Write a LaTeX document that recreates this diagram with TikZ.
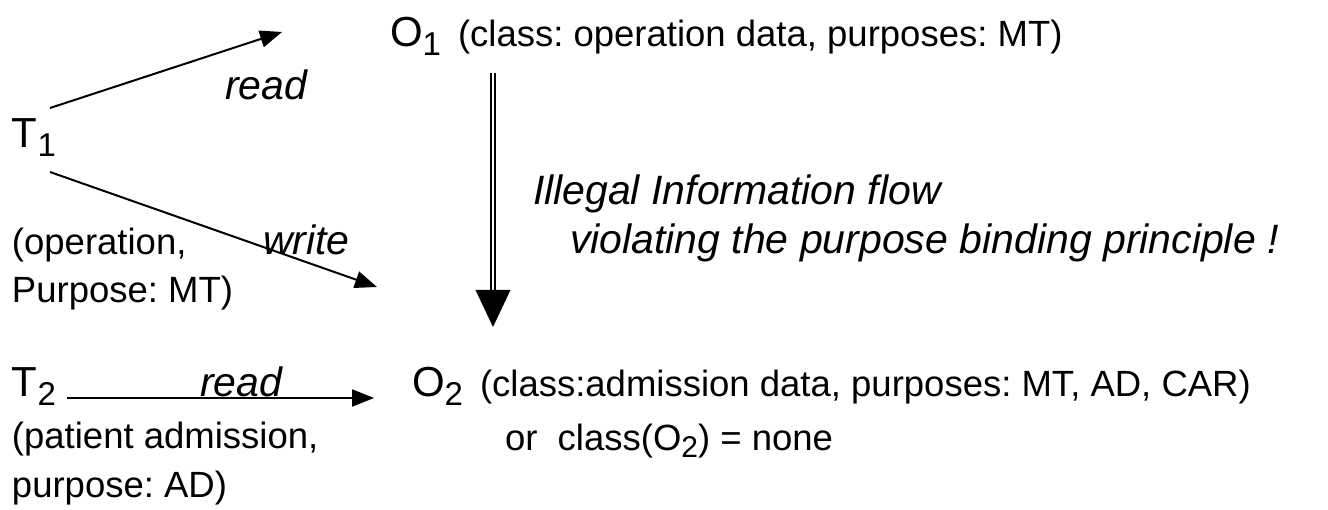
\documentclass[tikz,border=0pt]{standalone}
\usepackage{fontspec}
\setmainfont{Liberation Sans}
\usetikzlibrary{arrows.meta}
\frenchspacing

% subject / object symbol with a lowered index
\newcommand\symidx[2]{{\fontsize{42}{42}\selectfont #1}\raisebox{-9pt}{\fontsize{33}{33}\selectfont #2}}

\tikzset{
  txt/.style={anchor=base west, inner sep=0pt, outer sep=0pt,
              font=\fontsize{36.5}{44}\selectfont},
  lbl/.style={txt, font=\fontsize{41}{48}\selectfont\itshape},
  conn/.style={line width=2pt, -{Triangle[length=22pt,width=17pt]}},
  flowline/.style={line width=2.4pt, double distance=1.8pt},
}

\begin{document}
\begin{tikzpicture}[x=1pt, y=-1pt]
  \fill[white] (0,0) rectangle (1328,510);
  \useasboundingbox (0,0) rectangle (1328,510);

  % transaction T1 and object O1
  \node[txt] (T1)   at (12,148)  {\symidx{T}{1}};
  \node[txt] (O1)   at (390,47)  {\symidx{O}{1}};
  \node[txt] (O1d)  at (458,47)  {(class: operation data, purposes: MT)};
  \node[lbl] (rd1)  at (225,100) {read};
  \node[txt] (T1d1) at (12,255)  {(operation,};
  \node[lbl] (wr)   at (263,255) {write};
  \node[txt] (T1d2) at (12,303)  {Purpose: MT)};

  % flow annotation
  \node[lbl] (ill1) at (533,205) {Illegal Information flow};
  \node[lbl] (ill2) at (570,254) {violating the purpose binding principle !};

  % transaction T2 and object O2
  \node[txt] (T2)   at (12,397)  {\symidx{T}{2}};
  \node[lbl] (rd2)  at (200,397) {read};
  \node[txt] (O2)   at (412,397) {\symidx{O}{2}};
  \node[txt] (O2d)  at (480,397) {(class:admission data, purposes: MT, AD, CAR)};
  \node[txt] (O2n)  at (505,450) {or\ \ class(O\raisebox{-7pt}{\fontsize{30}{30}\selectfont 2}) = none};
  \node[txt] (T2d1) at (12,448)  {(patient admission,};
  \node[txt] (T2d2) at (12,497)  {purpose: AD)};

  % connector end points
  \coordinate (a1s) at (50,108);
  \coordinate (a1e) at (282,32);
  \coordinate (a2s) at (50,172);
  \coordinate (a2e) at (377,287);
  \coordinate (a3s) at (67,398);
  \coordinate (a3e) at (374,398);
  \coordinate (fs)  at (493,73);
  \coordinate (fm)  at (493,292);
  \coordinate (fe)  at (493,327);

  \draw[conn] (a1s) -- (a1e);
  \draw[conn] (a2s) -- (a2e);
  \draw[conn] (a3s) -- (a3e);

  % double flow arrow O1 => O2
  \draw[flowline] (fs) -- (fm);
  \fill (fe) -- ++(-17.5,-37) -- ++(35,0) -- cycle;
\end{tikzpicture}
\end{document}
